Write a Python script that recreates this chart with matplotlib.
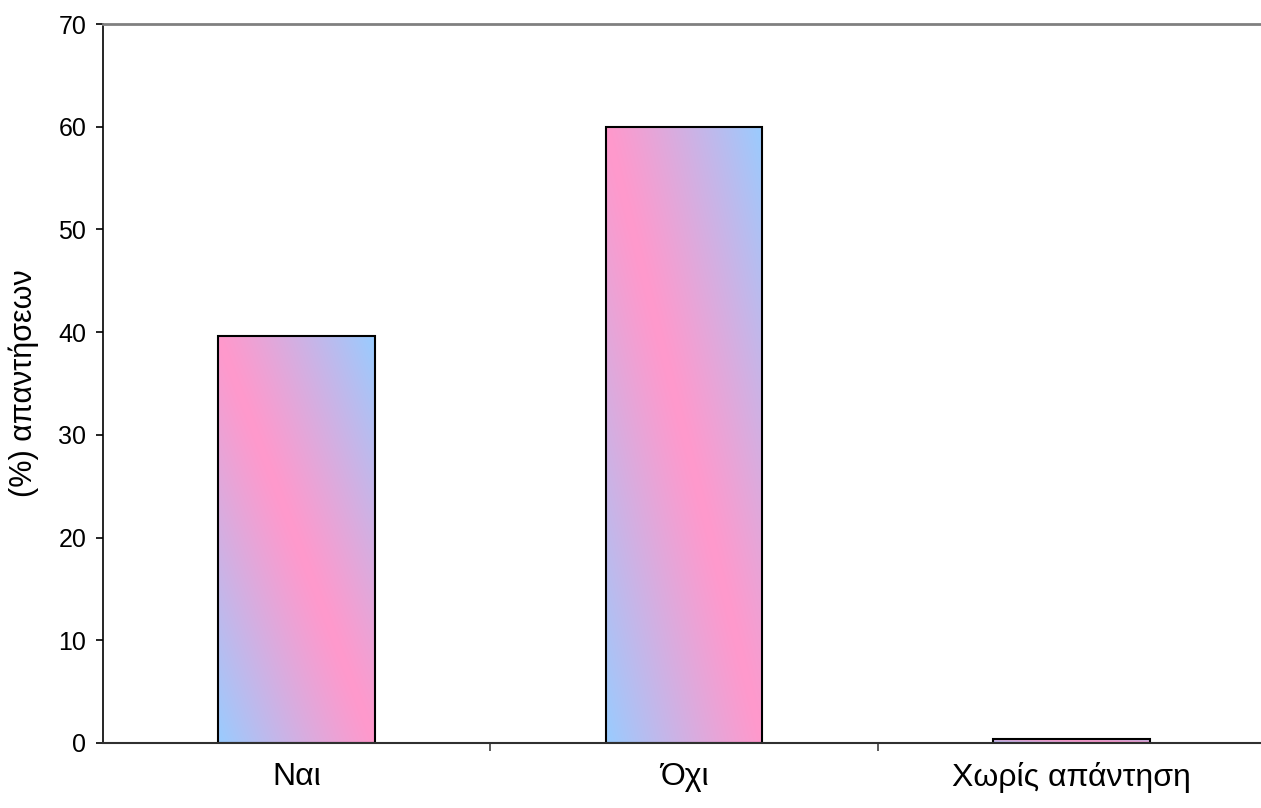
import numpy as np
import matplotlib
matplotlib.use("Agg")
import matplotlib.pyplot as plt
from matplotlib.ticker import FixedLocator

plt.rcParams['font.family'] = ['Liberation Sans', 'DejaVu Sans']

categories = ["Ναι", "Όχι", "Χωρίς απάντηση"]
values = [39.6, 60.0, 0.4]
y_ticks = [0, 10, 20, 30, 40, 50, 60, 70]
y_label = "(%) απαντήσεων"

pink = np.array([255, 153, 204]) / 255.0
blue = np.array([153, 204, 255]) / 255.0

fig = plt.figure(figsize=(12.61, 8.08), dpi=100)
ax = fig.add_axes([103 / 1261, 65 / 808, 1162 / 1261, 719 / 808])

x = np.arange(len(categories))
bars = ax.bar(x, values, width=0.405, facecolor="none", edgecolor="black",
              linewidth=1.5, zorder=3)

# diagonal two-colour gradient clipped to each bar
n = 256
u = np.linspace(0, 1, n)[None, :]
v = np.linspace(0, 1, n)[:, None]
t = np.clip(np.abs(u - v), 0, 1) ** 1.15
grad = pink[None, None, :] * (1 - t[..., None]) + blue[None, None, :] * t[..., None]
for b in bars:
    x0, y0 = b.get_x(), b.get_y()
    w, h = b.get_width(), b.get_height()
    im = ax.imshow(grad, extent=[x0, x0 + w, y0, y0 + h], origin="upper",
                   aspect="auto", interpolation="bilinear", zorder=2)
    im.set_clip_path(b)

ax.set_xlim(-0.5, len(categories) - 0.5)
ax.set_ylim(0, 70)
ax.set_yticks(y_ticks)
ax.set_xticks(x)
ax.set_xticklabels(categories)
ax.xaxis.set_minor_locator(FixedLocator([0.5, 1.5]))
ax.tick_params(axis="x", which="major", length=0, pad=14, labelsize=23)
ax.tick_params(axis="x", which="minor", length=6, width=1.2, color="#404040",
               direction="out")
ax.tick_params(axis="y", which="major", length=5, width=1.2, direction="out",
               labelsize=18, pad=7)

ax.set_ylabel(y_label, fontsize=22, labelpad=14)

for side in ("top", "right"):
    ax.spines[side].set_color("#808080")
    ax.spines[side].set_linewidth(2)
ax.spines["left"].set_color("black")
ax.spines["left"].set_linewidth(1.2)
ax.spines["bottom"].set_color("#303030")
ax.spines["bottom"].set_linewidth(1.5)
ax.spines["bottom"].set_zorder(4)

fig.savefig("out.png", dpi=100)
